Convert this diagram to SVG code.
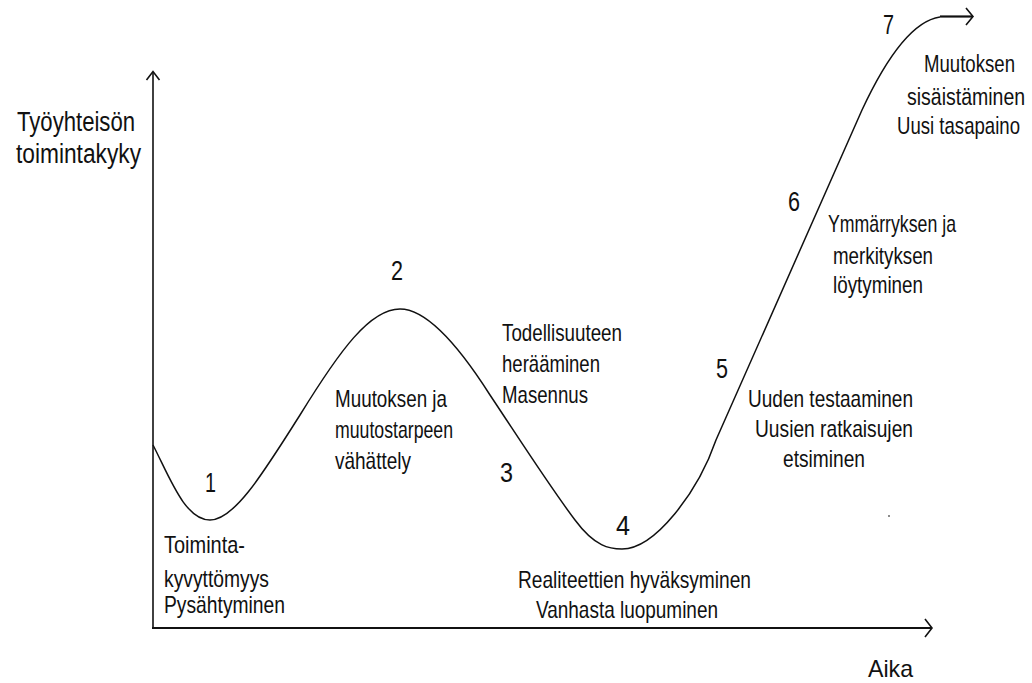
<svg xmlns="http://www.w3.org/2000/svg" width="1032" height="683" viewBox="0 0 1032 683">
<style>
text{font-family:"Liberation Sans Narrow","Arial Narrow","Liberation Sans",Arial,sans-serif;fill:#111;font-size:24px}
.big{font-size:27px}
.num{font-size:28px}
.ax{fill:none;stroke:#111;stroke-width:1.6}
.ax2{fill:none;stroke:#111;stroke-width:2.2}
.cv{fill:none;stroke:#111;stroke-width:1.5}
</style>
<rect width="1032" height="683" fill="#fff"/>
<g id="connectors">
<path class="ax" d="M153,628 L153,72"/>
<path class="ax" d="M146.5,80 L153,71.5 L159.5,80"/>
<path class="ax2" d="M152,628 L931,628"/>
<path class="ax" d="M925,619 L932,628 L925,637"/>
<path class="cv" d="M153,445 C170,478 185,520 210,520 C235,520 265,470 300,415 C340,350 370,309 400,309 C425,309 455,340 490,395 C520,440 550,487 575,520 C595,547 610,549 622,549 C655,549 698,492 716,440 L862,110 C876,80 905,22 940,17"/>
<path class="ax2" d="M940,16.5 L972,16.5"/>
<path class="ax" d="M966,8 L973,16.5 L966,25"/>
</g>
<g id="y-axis-label">
<text class="big" x="17" y="131" textLength="118" lengthAdjust="spacingAndGlyphs">Työyhteisön</text>
<text class="big" x="16" y="163" textLength="125" lengthAdjust="spacingAndGlyphs">toimintakyky</text>
</g>
<g id="x-axis-label">
<text x="868" y="677" textLength="45" lengthAdjust="spacingAndGlyphs">Aika</text>
</g>
<g id="stage1">
<text class="num" x="205" y="492" textLength="11" lengthAdjust="spacingAndGlyphs">1</text>
<text x="164" y="553" textLength="81" lengthAdjust="spacingAndGlyphs">Toiminta-</text>
<text x="164" y="587" textLength="105" lengthAdjust="spacingAndGlyphs">kyvyttömyys</text>
<text x="164" y="613" textLength="121" lengthAdjust="spacingAndGlyphs">Pysähtyminen</text>
</g>
<g id="stage2">
<text class="num" x="391" y="280" textLength="12" lengthAdjust="spacingAndGlyphs">2</text>
<text x="335" y="407" textLength="112" lengthAdjust="spacingAndGlyphs">Muutoksen ja</text>
<text x="335" y="438" textLength="118" lengthAdjust="spacingAndGlyphs">muutostarpeen</text>
<text x="335" y="469" textLength="76" lengthAdjust="spacingAndGlyphs">vähättely</text>
</g>
<g id="stage3">
<text class="num" x="500" y="482" textLength="13" lengthAdjust="spacingAndGlyphs">3</text>
<text x="502" y="341" textLength="120" lengthAdjust="spacingAndGlyphs">Todellisuuteen</text>
<text x="502" y="372" textLength="98" lengthAdjust="spacingAndGlyphs">herääminen</text>
<text x="502" y="403" textLength="86" lengthAdjust="spacingAndGlyphs">Masennus</text>
</g>
<g id="stage4">
<text class="num" x="616" y="535" textLength="14" lengthAdjust="spacingAndGlyphs">4</text>
<text x="518" y="588" textLength="233" lengthAdjust="spacingAndGlyphs">Realiteettien hyväksyminen</text>
<text x="536" y="618" textLength="182" lengthAdjust="spacingAndGlyphs">Vanhasta luopuminen</text>
</g>
<g id="stage5">
<text class="num" x="716" y="378" textLength="12" lengthAdjust="spacingAndGlyphs">5</text>
<text x="748" y="407" textLength="165" lengthAdjust="spacingAndGlyphs">Uuden testaaminen</text>
<text x="755" y="437" textLength="158" lengthAdjust="spacingAndGlyphs">Uusien ratkaisujen</text>
<text x="783" y="467" textLength="82" lengthAdjust="spacingAndGlyphs">etsiminen</text>
</g>
<g id="stage6">
<text class="num" x="788" y="211" textLength="12" lengthAdjust="spacingAndGlyphs">6</text>
<text x="828" y="232" textLength="128" lengthAdjust="spacingAndGlyphs">Ymmärryksen ja</text>
<text x="833" y="264" textLength="100" lengthAdjust="spacingAndGlyphs">merkityksen</text>
<text x="833" y="293" textLength="90" lengthAdjust="spacingAndGlyphs">löytyminen</text>
</g>
<g id="stage7">
<text class="num" x="883" y="34" textLength="11" lengthAdjust="spacingAndGlyphs">7</text>
<text transform="translate(924,72) scale(0.82,1)" x="0" y="0" textLength="111" lengthAdjust="spacingAndGlyphs">Muutoksen</text>
<text transform="translate(907,105) scale(0.82,1)" x="0" y="0" textLength="144" lengthAdjust="spacingAndGlyphs">sisäistäminen</text>
<text transform="translate(897,134) scale(0.82,1)" x="0" y="0" textLength="150" lengthAdjust="spacingAndGlyphs">Uusi tasapaino</text>
</g>
<circle cx="889" cy="516" r="1" fill="#666"/>
</svg>
